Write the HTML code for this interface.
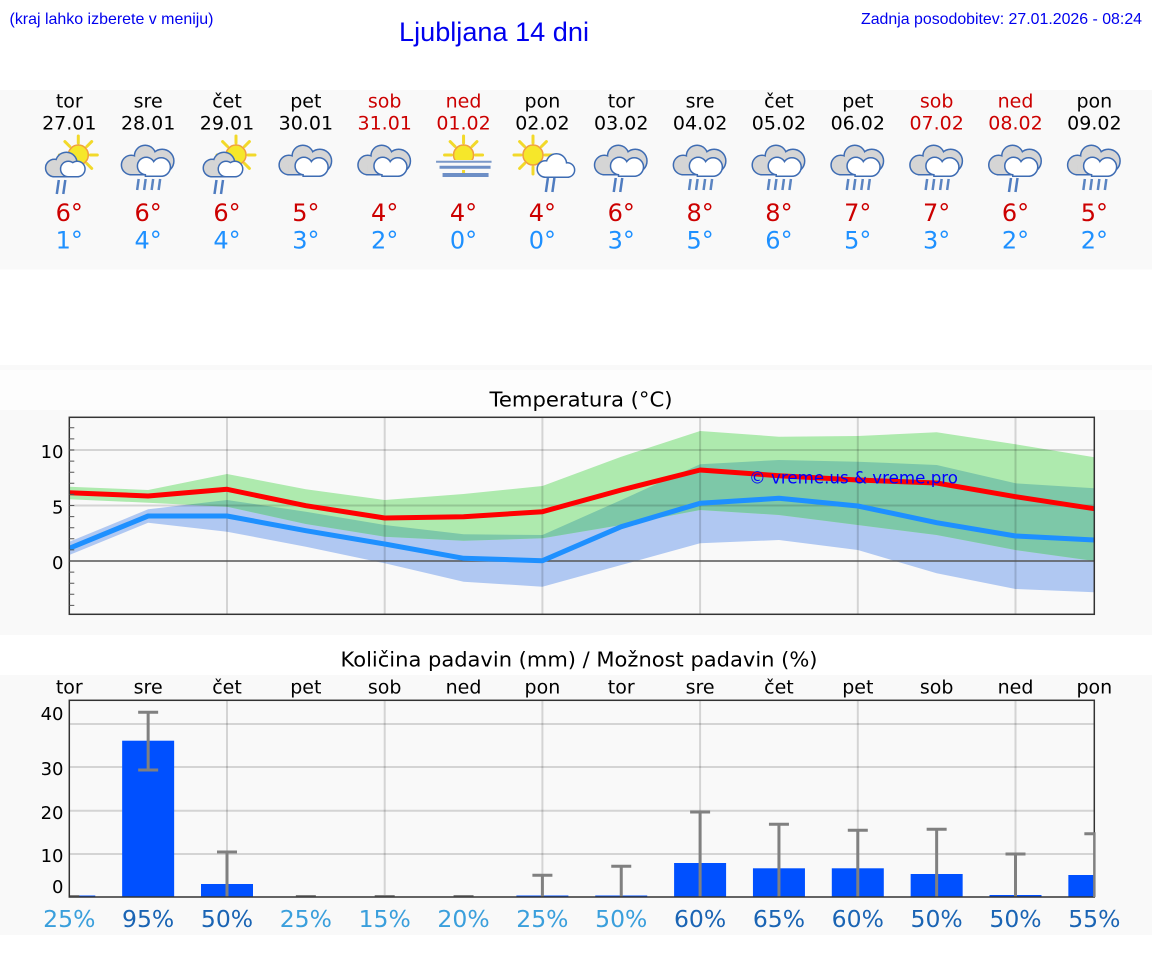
<!DOCTYPE html>
<html><head><meta charset="utf-8"><style>
html,body{margin:0;padding:0;background:#fff;}
svg{display:block;}
text{font-family:"DejaVu Sans","Liberation Sans",sans-serif;}
.ar{font-family:"Liberation Sans",Arial,sans-serif;}
</style></head><body>
<svg width="1152" height="975" viewBox="0 0 1152 975" xmlns="http://www.w3.org/2000/svg">
<defs>
<clipPath id="tc"><rect x="69.3" y="417.3" width="1025" height="197"/></clipPath>
<clipPath id="pc"><rect x="69.3" y="700.3" width="1025" height="196.7"/></clipPath>
<clipPath id="bc"><polygon points="69.3,541.7 148.15,509.3 227,500 305.85,511.7 384.7,525 463.55,534.3 542.4,535 621.25,500 700.1,464.3 778.95,460 857.8,461.7 936.65,465 1015.5,483.3 1094.35,488.3 1094.35,592.3 1015.5,589 936.65,573.3 857.8,550 778.95,540 700.1,543.3 621.25,565 542.4,586.7 463.55,581.7 384.7,563.3 305.85,546.7 227,531.7 148.15,522.7 69.3,555"/></clipPath>
<g id="cloud2">
 <g fill="none" stroke="#3e6cb3" stroke-width="3"><circle cx="-17" cy="0" r="9"/><circle cx="-3" cy="-9" r="10"/><circle cx="14" cy="-4" r="11"/><rect x="-17" y="0" width="31" height="9"/></g>
 <g fill="#d5d5d5"><circle cx="-17" cy="0" r="9"/><circle cx="-3" cy="-9" r="10"/><circle cx="14" cy="-4" r="11"/><rect x="-17" y="0" width="31" height="9"/></g>
 <g fill="none" stroke="#3e6cb3" stroke-width="3"><circle cx="-2" cy="1" r="8"/><circle cx="13" cy="2" r="8.5"/><rect x="-2" y="2" width="15" height="8.5"/></g>
 <g fill="#ffffff"><circle cx="-2" cy="1" r="8"/><circle cx="13" cy="2" r="8.5"/><rect x="-2" y="2" width="15" height="8.5"/></g>
</g>
<g id="sun">
 <g stroke="#f2d92a" stroke-width="3" stroke-linecap="round">
  <line x1="12" y1="0" x2="19" y2="0"/><line x1="-12" y1="0" x2="-19" y2="0"/><line x1="0" y1="12" x2="0" y2="19"/><line x1="0" y1="-12" x2="0" y2="-19"/>
  <line x1="8.5" y1="8.5" x2="13.4" y2="13.4"/><line x1="-8.5" y1="-8.5" x2="-13.4" y2="-13.4"/><line x1="8.5" y1="-8.5" x2="13.4" y2="-13.4"/><line x1="-8.5" y1="8.5" x2="-13.4" y2="13.4"/>
 </g>
 <circle r="10" fill="#f6e72a" stroke="#f0a040" stroke-width="1.5"/>
</g>
<g id="cloudS">
 <g fill="none" stroke="#3e6cb3" stroke-width="3"><circle cx="-15" cy="3" r="8"/><circle cx="-3" cy="-2" r="10"/><rect x="-15" y="3" width="22" height="8"/></g>
 <g fill="#d5d5d5"><circle cx="-15" cy="3" r="8"/><circle cx="-3" cy="-2" r="10"/><rect x="-15" y="3" width="22" height="8"/></g>
 <g fill="none" stroke="#3e6cb3" stroke-width="3"><circle cx="-1" cy="4" r="7"/><circle cx="8" cy="4" r="7"/><rect x="-1" y="4" width="9" height="7"/></g>
 <g fill="#ffffff"><circle cx="-1" cy="4" r="7"/><circle cx="8" cy="4" r="7"/><rect x="-1" y="4" width="9" height="7"/></g>
</g>
<g id="cloudW">
 <g fill="none" stroke="#3e6cb3" stroke-width="3"><circle cx="3" cy="4" r="7.5"/><circle cx="14" cy="-1" r="9.5"/><circle cx="25" cy="5" r="6.5"/><rect x="3" y="4" width="22" height="7.5"/></g>
 <g fill="#ffffff"><circle cx="3" cy="4" r="7.5"/><circle cx="14" cy="-1" r="9.5"/><circle cx="25" cy="5" r="6.5"/><rect x="3" y="4" width="22" height="7.5"/></g>
</g>
<g id="rain4" stroke="#5a84c2" stroke-width="2.5"><line x1="-9.5" y1="14" x2="-11" y2="25"/><line x1="-2.5" y1="14" x2="-4" y2="25"/><line x1="5" y1="14" x2="3.5" y2="25"/><line x1="12" y1="14" x2="10.5" y2="25"/></g>
<g id="rain2" stroke="#4f7cc0" stroke-width="2.5"><line x1="-5.5" y1="13" x2="-7.5" y2="27"/><line x1="1" y1="13" x2="-1" y2="27"/></g>
</defs>

<!-- backgrounds -->
<rect x="0" y="90" width="1152" height="179.5" fill="#f9f9f9"/>
<rect x="0" y="365" width="1152" height="5" fill="#f9f9f9"/>
<rect x="0" y="370" width="1152" height="40" fill="#fdfdfd"/>
<rect x="0" y="410" width="1152" height="225" fill="#f9f9f9"/>
<rect x="0" y="675" width="1152" height="260" fill="#f9f9f9"/>

<!-- header texts -->
<text class="ar" x="9.5" y="24" font-size="16" fill="#0000ee" textLength="204" lengthAdjust="spacingAndGlyphs">(kraj lahko izberete v meniju)</text>
<text class="ar" x="399" y="41" font-size="27" fill="#0000ee" textLength="190" lengthAdjust="spacingAndGlyphs">Ljubljana 14 dni</text>
<text class="ar" x="861" y="24" font-size="16" fill="#0000ee" textLength="281" lengthAdjust="spacingAndGlyphs">Zadnja posodobitev: 27.01.2026 - 08:24</text>

<!-- day names / dates -->
<g font-size="19" text-anchor="middle">
<text x="69.3" y="107.5">tor</text><text x="148.15" y="107.5">sre</text><text x="227" y="107.5">čet</text><text x="305.85" y="107.5">pet</text>
<text x="384.7" y="107.5" fill="#cc0000">sob</text><text x="463.55" y="107.5" fill="#cc0000">ned</text>
<text x="542.4" y="107.5">pon</text><text x="621.25" y="107.5">tor</text><text x="700.1" y="107.5">sre</text><text x="778.95" y="107.5">čet</text><text x="857.8" y="107.5">pet</text>
<text x="936.65" y="107.5" fill="#cc0000">sob</text><text x="1015.5" y="107.5" fill="#cc0000">ned</text><text x="1094.35" y="107.5">pon</text>
<text x="69.3" y="129.3">27.01</text><text x="148.15" y="129.3">28.01</text><text x="227" y="129.3">29.01</text><text x="305.85" y="129.3">30.01</text>
<text x="384.7" y="129.3" fill="#cc0000">31.01</text><text x="463.55" y="129.3" fill="#cc0000">01.02</text>
<text x="542.4" y="129.3">02.02</text><text x="621.25" y="129.3">03.02</text><text x="700.1" y="129.3">04.02</text><text x="778.95" y="129.3">05.02</text><text x="857.8" y="129.3">06.02</text>
<text x="936.65" y="129.3" fill="#cc0000">07.02</text><text x="1015.5" y="129.3" fill="#cc0000">08.02</text><text x="1094.35" y="129.3">09.02</text>
</g>

<!-- icons -->
<g transform="translate(69.3,165)"><use href="#sun" x="9" y="-10"/><use href="#cloudS"/><use href="#rain2" x="-5" y="2"/></g>
<g transform="translate(148.15,165)"><use href="#cloud2"/><use href="#rain4"/></g>
<g transform="translate(227,165)"><use href="#sun" x="9" y="-10"/><use href="#cloudS"/><use href="#rain2" x="-5" y="2"/></g>
<g transform="translate(305.85,165)"><use href="#cloud2"/></g>
<g transform="translate(384.7,165)"><use href="#cloud2"/></g>
<g transform="translate(463.55,165)">
 <use href="#sun" x="0" y="-10"/>
 <rect x="-28" y="-5" width="56" height="10" fill="#f9f9f9"/>
 <line x1="-27.5" y1="-3.3" x2="28" y2="-3.3" stroke="#7a98c8" stroke-width="2"/>
 <line x1="-24" y1="2.3" x2="27" y2="2.3" stroke="#6d8fc6" stroke-width="3"/>
 <line x1="-21" y1="10" x2="25" y2="10" stroke="#6d8fc6" stroke-width="4"/>
</g>
<g transform="translate(542.4,165)"><use href="#sun" x="-9.4" y="-10"/><use href="#cloudW"/><use href="#rain2" x="11" y="0"/></g>
<g transform="translate(621.25,165)"><use href="#cloud2"/><use href="#rain2"/></g>
<g transform="translate(700.1,165)"><use href="#cloud2"/><use href="#rain4"/></g>
<g transform="translate(778.95,165)"><use href="#cloud2"/><use href="#rain4"/></g>
<g transform="translate(857.8,165)"><use href="#cloud2"/><use href="#rain4"/></g>
<g transform="translate(936.65,165)"><use href="#cloud2"/><use href="#rain4"/></g>
<g transform="translate(1015.5,165)"><use href="#cloud2"/><use href="#rain2" x="1"/></g>
<g transform="translate(1094.35,165)"><use href="#cloud2"/><use href="#rain4"/></g>

<!-- temps -->
<g font-size="24" text-anchor="middle" fill="#cc0000">
<text x="69.3" y="221">6°</text><text x="148.15" y="221">6°</text><text x="227" y="221">6°</text><text x="305.85" y="221">5°</text><text x="384.7" y="221">4°</text><text x="463.55" y="221">4°</text><text x="542.4" y="221">4°</text><text x="621.25" y="221">6°</text><text x="700.1" y="221">8°</text><text x="778.95" y="221">8°</text><text x="857.8" y="221">7°</text><text x="936.65" y="221">7°</text><text x="1015.5" y="221">6°</text><text x="1094.35" y="221">5°</text>
</g>
<g font-size="24" text-anchor="middle" fill="#1e90ff">
<text x="69.3" y="248.5">1°</text><text x="148.15" y="248.5">4°</text><text x="227" y="248.5">4°</text><text x="305.85" y="248.5">3°</text><text x="384.7" y="248.5">2°</text><text x="463.55" y="248.5">0°</text><text x="542.4" y="248.5">0°</text><text x="621.25" y="248.5">3°</text><text x="700.1" y="248.5">5°</text><text x="778.95" y="248.5">6°</text><text x="857.8" y="248.5">5°</text><text x="936.65" y="248.5">3°</text><text x="1015.5" y="248.5">2°</text><text x="1094.35" y="248.5">2°</text>
</g>

<!-- TEMPERATURE CHART -->
<text x="581" y="406.5" font-size="20.7" text-anchor="middle" textLength="183" lengthAdjust="spacingAndGlyphs">Temperatura (°C)</text>
<rect x="69.3" y="417.3" width="1025" height="197" fill="#f9f9f9"/>
<g clip-path="url(#tc)">
 <polygon fill="#b0c8f2" points="69.3,541.7 148.15,509.3 227,500 305.85,511.7 384.7,525 463.55,534.3 542.4,535 621.25,500 700.1,464.3 778.95,460 857.8,461.7 936.65,465 1015.5,483.3 1094.35,488.3 1094.35,592.3 1015.5,589 936.65,573.3 857.8,550 778.95,540 700.1,543.3 621.25,565 542.4,586.7 463.55,581.7 384.7,563.3 305.85,546.7 227,531.7 148.15,522.7 69.3,555"/>
 <polygon fill="#aeeaae" points="69.3,486.7 148.15,490 227,474 305.85,489.3 384.7,500 463.55,494 542.4,486 621.25,456.7 700.1,431 778.95,436.7 857.8,436 936.65,432.3 1015.5,444.3 1094.35,457.3 1094.35,561 1015.5,550 936.65,535 857.8,525 778.95,515 700.1,510 621.25,525 542.4,538.3 463.55,540.7 384.7,536.7 305.85,524 227,506.7 148.15,502.7 69.3,499.3"/>
 <g clip-path="url(#bc)"><polygon fill="#7dc8a8" points="69.3,486.7 148.15,490 227,474 305.85,489.3 384.7,500 463.55,494 542.4,486 621.25,456.7 700.1,431 778.95,436.7 857.8,436 936.65,432.3 1015.5,444.3 1094.35,457.3 1094.35,561 1015.5,550 936.65,535 857.8,525 778.95,515 700.1,510 621.25,525 542.4,538.3 463.55,540.7 384.7,536.7 305.85,524 227,506.7 148.15,502.7 69.3,499.3"/></g>
 <g stroke="rgba(0,0,0,0.15)" stroke-width="2">
  <line x1="69.3" y1="450" x2="1094.35" y2="450"/><line x1="69.3" y1="505.5" x2="1094.35" y2="505.5"/>
  <line x1="227" y1="417.3" x2="227" y2="614.3"/><line x1="384.7" y1="417.3" x2="384.7" y2="614.3"/><line x1="542.4" y1="417.3" x2="542.4" y2="614.3"/><line x1="700.1" y1="417.3" x2="700.1" y2="614.3"/><line x1="857.8" y1="417.3" x2="857.8" y2="614.3"/><line x1="1015.5" y1="417.3" x2="1015.5" y2="614.3"/>
 </g>
 <line x1="69.3" y1="561" x2="1094.35" y2="561" stroke="#555" stroke-width="1.5"/>
 <polyline fill="none" stroke="#ff0000" stroke-width="5" stroke-linejoin="round" points="69.3,492.7 148.15,496 227,489.3 305.85,505.7 384.7,518 463.55,516.7 542.4,511.7 621.25,490 700.1,470 778.95,475.7 857.8,480 936.65,483 1015.5,496.7 1094.35,508.7"/>
 <polyline fill="none" stroke="#1e90ff" stroke-width="5" stroke-linejoin="round" points="69.3,548.3 148.15,516 227,516 305.85,530.7 384.7,544 463.55,558.3 542.4,560.7 621.25,526.7 700.1,503.3 778.95,498.3 857.8,506 936.65,522.7 1015.5,536 1094.35,540"/>
 <text x="749" y="483.3" font-size="16.6" fill="#0000ff" textLength="209" lengthAdjust="spacingAndGlyphs">© vreme.us &amp; vreme.pro</text>
</g>
<rect x="69.3" y="417.3" width="1025" height="197" fill="none" stroke="#333" stroke-width="1.5"/>
<path d="M69.3 605.4h5M69.3 594.3h5M69.3 583.2h5M69.3 572.1h5M69.3 561h5M69.3 549.9h5M69.3 538.8h5M69.3 527.7h5M69.3 516.6h5M69.3 505.5h5M69.3 494.4h5M69.3 483.3h5M69.3 472.2h5M69.3 461.1h5M69.3 450h5M69.3 438.9h5M69.3 427.8h5" stroke="#555" stroke-width="1"/>
<g font-size="18" text-anchor="end">
<text x="63.5" y="458">10</text><text x="63.5" y="513.3">5</text><text x="63.5" y="569">0</text>
</g>

<!-- PRECIPITATION CHART -->
<text x="579" y="666.5" font-size="20.7" text-anchor="middle" textLength="477" lengthAdjust="spacingAndGlyphs">Količina padavin (mm) / Možnost padavin (%)</text>
<g font-size="19" text-anchor="middle">
<text x="69.3" y="693.3">tor</text><text x="148.15" y="693.3">sre</text><text x="227" y="693.3">čet</text><text x="305.85" y="693.3">pet</text><text x="384.7" y="693.3">sob</text><text x="463.55" y="693.3">ned</text><text x="542.4" y="693.3">pon</text><text x="621.25" y="693.3">tor</text><text x="700.1" y="693.3">sre</text><text x="778.95" y="693.3">čet</text><text x="857.8" y="693.3">pet</text><text x="936.65" y="693.3">sob</text><text x="1015.5" y="693.3">ned</text><text x="1094.35" y="693.3">pon</text>
</g>
<rect x="69.3" y="700.3" width="1025" height="196.7" fill="#f9f9f9"/>
<g clip-path="url(#pc)">
 <g stroke="rgba(0,0,0,0.15)" stroke-width="2">
  <line x1="69.3" y1="724" x2="1094.35" y2="724"/><line x1="69.3" y1="767" x2="1094.35" y2="767"/><line x1="69.3" y1="810.7" x2="1094.35" y2="810.7"/><line x1="69.3" y1="854" x2="1094.35" y2="854"/>
  <line x1="227" y1="700.3" x2="227" y2="897"/><line x1="384.7" y1="700.3" x2="384.7" y2="897"/><line x1="542.4" y1="700.3" x2="542.4" y2="897"/><line x1="700.1" y1="700.3" x2="700.1" y2="897"/><line x1="857.8" y1="700.3" x2="857.8" y2="897"/><line x1="1015.5" y1="700.3" x2="1015.5" y2="897"/>
 </g>
 <g fill="#0050ff">
  <rect x="43.3" y="895.5" width="52" height="1.5"/>
  <rect x="122.15" y="740.7" width="52" height="156.3"/>
  <rect x="201" y="884" width="52" height="13"/>
  <rect x="516.4" y="895.5" width="52" height="1.5"/>
  <rect x="595.25" y="895.5" width="52" height="1.5"/>
  <rect x="674.1" y="863" width="52" height="34"/>
  <rect x="752.95" y="868.3" width="52" height="28.7"/>
  <rect x="831.8" y="868.3" width="52" height="28.7"/>
  <rect x="910.65" y="874" width="52" height="23"/>
  <rect x="989.5" y="895" width="52" height="2"/>
  <rect x="1068.35" y="875" width="52" height="22"/>
 </g>
 <path fill="none" stroke="#808080" stroke-width="3" d="M59.3 896.5h20M148.15 712.3V770M138.15 712.3h20M138.15 770h20M227 852V897M217 852h20M295.85 896.5h20M374.7 896.5h20M453.55 896.5h20M542.4 875.3V897M532.4 875.3h20M621.25 866.3V897M611.25 866.3h20M700.1 812V897M690.1 812h20M778.95 824.3V897M768.95 824.3h20M857.8 830.3V897M847.8 830.3h20M936.65 829.3V897M926.65 829.3h20M1015.5 854V897M1005.5 854h20M1084.35 833.7h10"/>
</g>
<rect x="69.3" y="700.3" width="1025" height="196.7" fill="none" stroke="#333" stroke-width="1.5"/>
<path d="M1094.35 832.2V897" stroke="#808080" stroke-width="2.5"/>
<g font-size="18" text-anchor="end">
<text x="63.5" y="720">40</text><text x="63.5" y="775">30</text><text x="63.5" y="819">20</text><text x="63.5" y="862">10</text><text x="63.5" y="893">0</text>
</g>
<g font-size="23.5" text-anchor="middle">
<text x="69.3" y="927" fill="#3a9fdc">25%</text>
<text x="148.15" y="927" fill="#1a64b4">95%</text>
<text x="227" y="927" fill="#1a64b4">50%</text>
<text x="305.85" y="927" fill="#3a9fdc">25%</text>
<text x="384.7" y="927" fill="#3a9fdc">15%</text>
<text x="463.55" y="927" fill="#3a9fdc">20%</text>
<text x="542.4" y="927" fill="#3a9fdc">25%</text>
<text x="621.25" y="927" fill="#3a9fdc">50%</text>
<text x="700.1" y="927" fill="#1a64b4">60%</text>
<text x="778.95" y="927" fill="#1a64b4">65%</text>
<text x="857.8" y="927" fill="#1a64b4">60%</text>
<text x="936.65" y="927" fill="#1a64b4">50%</text>
<text x="1015.5" y="927" fill="#1a64b4">50%</text>
<text x="1094.35" y="927" fill="#1a64b4">55%</text>
</g>
</svg>
</body></html>
